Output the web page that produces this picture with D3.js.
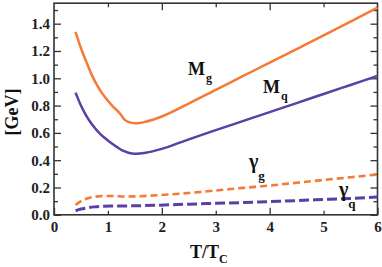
<!DOCTYPE html>
<html>
<head>
<meta charset="utf-8">
<script src="https://cdn.jsdelivr.net/npm/d3@7"></script>
<style>
  body { margin: 0; background: #fff; }
  svg { display: block; }
  .tick text { font-family: "Liberation Serif", "Times New Roman", serif; font-weight: bold; font-size: 15px; fill: #222; }
  .lbl { font-family: "Liberation Serif", "Times New Roman", serif; font-weight: bold; fill: #111; }
</style>
</head>
<body>
<svg id="chart" width="382" height="267"></svg>
<script>
// T/Tc and values for the masses (GeV)
let tMass = [0.4, 0.5, 0.6, 0.7, 0.85, 1.0, 1.1, 1.2, 1.25, 1.3, 1.38, 1.5, 1.7, 2.0, 2.5, 3.0, 3.5, 4.0, 4.5, 5.0, 5.5, 6.0];
let mGluon = [1.34, 1.22, 1.12, 1.025, 0.915, 0.835, 0.79, 0.752, 0.728, 0.7, 0.68, 0.670, 0.682, 0.72, 0.815, 0.915, 1.015, 1.115, 1.214, 1.314, 1.415, 1.517];
let mQuark = [0.895, 0.80, 0.725, 0.665, 0.595, 0.545, 0.515, 0.488, 0.476, 0.466, 0.455, 0.447, 0.455, 0.483, 0.553, 0.62, 0.686, 0.752, 0.818, 0.885, 0.951, 1.017];

// T/Tc and values for the widths (GeV)
let tWidth = [0.4, 0.5, 0.6, 0.75, 0.9, 1.1, 1.3, 1.5, 1.9, 2.5, 3.0, 3.5, 4.0, 4.5, 5.0, 5.5, 6.0];
let gGluon = [0.072, 0.1, 0.118, 0.132, 0.138, 0.138, 0.134, 0.135, 0.143, 0.16, 0.178, 0.197, 0.214, 0.235, 0.255, 0.275, 0.295];
let gQuark = [0.03, 0.042, 0.05, 0.058, 0.062, 0.064, 0.065, 0.066, 0.07, 0.078, 0.084, 0.09, 0.097, 0.104, 0.112, 0.12, 0.13];

let xTicks = [0, 1, 2, 3, 4, 5, 6];
let yTicks = [0, 0.2, 0.4, 0.6, 0.8, 1.0, 1.2, 1.4];
let yMinor = [0.1, 0.3, 0.5, 0.7, 0.9, 1.1, 1.3, 1.5];

let orange = '#f47a36';
let purple = '#5a3fa6';

let svg = d3.select('#chart');

let xScale = d3.scaleLinear()
	.domain([0, 6])
	.range([54, 377.5]);

let yScale = d3.scaleLinear()
	.domain([0, 1.55])
	.range([214.8, 3.2]);

let yTop = yScale.range()[1], yBottom = yScale.range()[0];
let xLeft = xScale.range()[0], xRight = xScale.range()[1];

// bottom axis, ticks pointing inward
let xAxis = svg.append('g')
	.attr('transform', `translate(0, ${yBottom})`)
	.call(d3.axisBottom(xScale).tickValues(xTicks).tickSize(-4).tickPadding(7).tickFormat(d3.format('d')));
xAxis.selectAll('.tick line').filter(d => d % 2 === 0).attr('y2', -7);

// top axis, no labels
let xTopAxis = svg.append('g')
	.attr('transform', `translate(0, ${yTop})`)
	.call(d3.axisTop(xScale).tickValues(xTicks.slice(1, -1)).tickSize(-4).tickFormat(''));
xTopAxis.selectAll('.tick line').filter(d => d % 2 === 0).attr('y2', 7);

// left axis
svg.append('g')
	.attr('transform', `translate(${xLeft}, 0)`)
	.call(d3.axisLeft(yScale).tickValues(yTicks).tickSize(-7).tickPadding(4).tickFormat(d3.format('.1f')));
svg.append('g')
	.attr('transform', `translate(${xLeft}, 0)`)
	.call(d3.axisLeft(yScale).tickValues(yMinor).tickSize(-4).tickFormat(''));

// right axis
svg.append('g')
	.attr('transform', `translate(${xRight}, 0)`)
	.call(d3.axisRight(yScale).tickValues(yTicks).tickSize(-7).tickFormat(''));
svg.append('g')
	.attr('transform', `translate(${xRight}, 0)`)
	.call(d3.axisRight(yScale).tickValues(yMinor).tickSize(-4).tickFormat(''));

svg.selectAll('.domain').remove();
svg.selectAll('.tick line').attr('stroke', '#333').attr('stroke-width', 1.3);

// frame
svg.append('rect')
	.attr('x', xLeft)
	.attr('y', yTop)
	.attr('width', xRight - xLeft)
	.attr('height', yBottom - yTop)
	.attr('fill', 'none')
	.attr('stroke', '#333')
	.attr('stroke-width', 1.6);

let line = d3.line()
	.x(d => xScale(d[0]))
	.y(d => yScale(d[1]))
	.curve(d3.curveMonotoneX);

let series = [
	{ t: tMass, v: mGluon, color: orange, dash: null, w: 2.5 },
	{ t: tMass, v: mQuark, color: purple, dash: null, w: 2.5 },
	{ t: tWidth, v: gGluon, color: orange, dash: '7,4', w: 2.6 },
	{ t: tWidth, v: gQuark, color: purple, dash: '10,4', w: 3 }
];

svg.selectAll('path.curve')
	.data(series)
	.enter()
	.append('path')
		.attr('class', 'curve')
		.attr('d', s => line(s.t.map((t, i) => [t, s.v[i]])))
		.attr('fill', 'none')
		.attr('stroke', s => s.color)
		.attr('stroke-width', s => s.w)
		.attr('stroke-dasharray', s => s.dash);

// curve labels
function label(x, y, main, sub, size, subSize, dx, dy) {
	let t = svg.append('text')
		.attr('class', 'lbl')
		.attr('x', x)
		.attr('y', y)
		.style('font-size', size + 'px')
		.text(main);
	t.append('tspan')
		.attr('dx', dx)
		.attr('dy', dy)
		.style('font-size', subSize + 'px')
		.text(sub);
}
label(188, 75, 'M', 'g', 18, 12, 1, 7);
label(263, 93, 'M', 'q', 18, 12, 1, 7);
label(249, 168, 'γ', 'g', 20, 13, 0, 12);
label(339, 196, 'γ', 'q', 20, 13, 0, 12);

// axis titles
let xt = svg.append('text')
	.attr('class', 'lbl')
	.attr('x', 190)
	.attr('y', 258)
	.style('font-size', '18px')
	.text('T/T');
xt.append('tspan')
	.attr('dy', 5)
	.style('font-size', '12px')
	.text('C');

svg.append('text')
	.attr('class', 'lbl')
	.attr('transform', 'translate(18, 112) rotate(-90)')
	.attr('text-anchor', 'middle')
	.style('font-size', '18px')
	.text('[GeV]');
</script>
</body>
</html>
